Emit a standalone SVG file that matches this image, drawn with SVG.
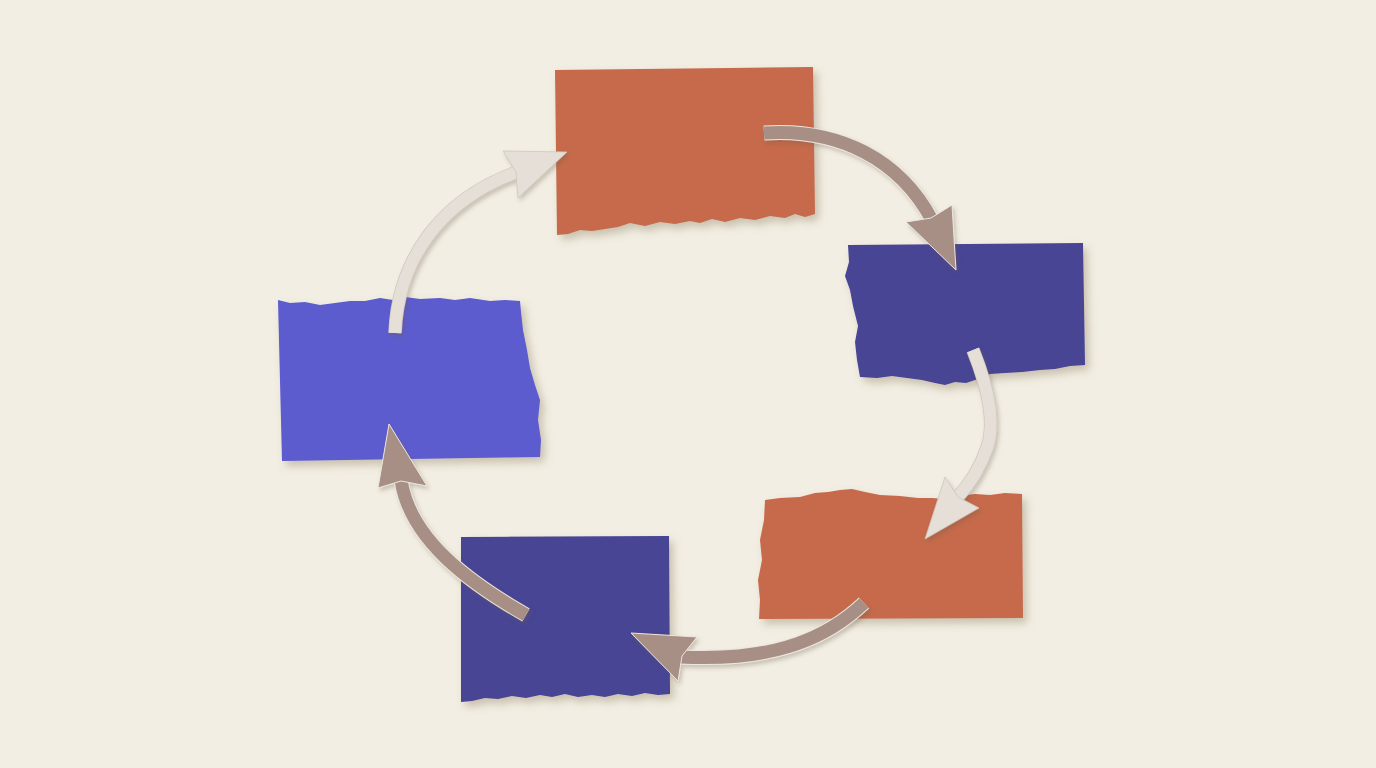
<svg xmlns="http://www.w3.org/2000/svg" width="1376" height="768" viewBox="0 0 1376 768">
<defs>
<style>
.bg{fill:#F2EEE3}
.orange{fill:#C66A4C}
.navy{fill:#464494}
.blue{fill:#5B5BCF}
.shaftB{fill:none;stroke:#A88F85;stroke-width:13;stroke-linecap:butt}
.headB{fill:#A88F85;stroke:#EDE6DC;stroke-width:1}
.shaftL{fill:none;stroke:#E5DFD7;stroke-width:12;stroke-linecap:butt}
.headL{fill:#E5DFD7;stroke:#CFC7BC;stroke-width:0.8}
.edgeB{fill:none;stroke:#EDE6DC;stroke-width:15;stroke-linecap:butt}
.edgeL{fill:none;stroke:#CFC7BC;stroke-width:13.5;stroke-linecap:butt}
</style>
<filter id="paper" x="-10%" y="-10%" width="130%" height="130%">
<feDropShadow dx="4" dy="5" stdDeviation="4" flood-color="#7d6a4c" flood-opacity="0.35"/>
</filter>
<filter id="arrowShadow" x="-10%" y="-10%" width="130%" height="130%">
<feDropShadow dx="2" dy="3" stdDeviation="2" flood-color="#6b5a44" flood-opacity="0.3"/>
</filter>
</defs>
<rect class="bg" x="0" y="0" width="1376" height="768"/>

<g id="node-top" filter="url(#paper)">
<polygon class="orange" points="555,70 813,67 815,214 805,217 795,214 785,218 770,216 755,220 740,218 725,222 712,219 700,223 690,221 675,224 660,222 645,226 630,223 618,227 605,229 592,231 580,230 568,234 557,235"/>
</g>

<g id="node-right" filter="url(#paper)">
<polygon class="navy" points="848,245 1083,243 1085,365 1070,366 1055,369 1040,370 1022,372 1005,373 990,374 978,379 966,383 955,382 945,385 935,383 922,380 907,378 892,376 877,378 860,377 857,360 855,342 858,326 853,306 850,290 845,276 849,262"/>
</g>

<g id="node-left" filter="url(#paper)">
<polygon class="blue" points="278,300 290,303 305,302 320,305 335,303 350,301 365,301 380,298 393,300 405,297 420,299 440,298 455,300 470,298 490,301 505,300 520,301 521,312 523,330 527,350 530,368 535,385 540,400 538,420 541,440 540,457 282,461"/>
</g>

<g id="node-bottom-right" filter="url(#paper)">
<polygon class="orange" points="765,500 780,498 800,497 815,493 828,492 840,490 852,489 865,492 880,495 900,496 918,498 932,498 945,499 960,496 975,494 990,495 1005,493 1022,494 1023,618 759,619 760,600 758,580 762,560 760,540 764,520"/>
</g>

<g id="node-bottom-left" filter="url(#paper)">
<polygon class="navy" points="461,537 669,536 670,694 658,695 645,693 632,696 618,694 605,697 592,695 578,697 565,694 552,697 540,695 526,698 512,696 498,699 485,698 472,701 461,702"/>
</g>

<g id="connectors" filter="url(#arrowShadow)">
<g id="arrow-top-right">
<path class="edgeB" d="M764,133 C840,128 900,160 932,220"/>
<path class="shaftB" d="M764,133 C840,128 900,160 932,220"/>
<polygon class="headB" points="906,222 956,270 952,205 931,218"/>
</g>
<g id="arrow-right-down">
<path class="edgeL" d="M973,350 C985,380 997,420 987,448 C980,468 968,486 957,498"/>
<path class="shaftL" d="M973,350 C985,380 997,420 987,448 C980,468 968,486 957,498"/>
<polygon class="headL" points="945,477 925,539 979,508 958,497"/>
</g>
<g id="arrow-bottom">
<path class="edgeB" d="M864,603 C830,635 780,662 681,657"/>
<path class="shaftB" d="M864,603 C830,635 780,662 681,657"/>
<polygon class="headB" points="697,637 631,633 678,681 682,656"/>
</g>
<g id="arrow-left-up">
<path class="edgeB" d="M526,615 C470,583 410,540 401,480"/>
<path class="shaftB" d="M526,615 C470,583 410,540 401,480"/>
<polygon class="headB" points="378,488 389,424 427,486 401,481"/>
</g>
<g id="arrow-left-top">
<path class="edgeL" d="M395,333 C398,260 440,200 517,172"/>
<path class="shaftL" d="M395,333 C398,260 440,200 517,172"/>
<polygon class="headL" points="503,151 567,152 518,198 516,172"/>
</g>
</g>
</svg>
